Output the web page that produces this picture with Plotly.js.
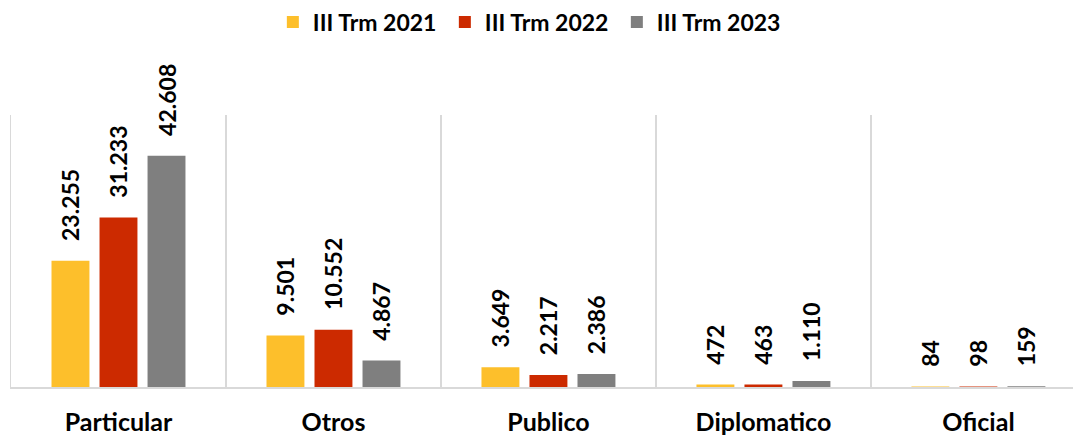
<!DOCTYPE html>
<html>
<head>
<meta charset="utf-8">
<script src="https://cdn.plot.ly/plotly-3.0.1.min.js"></script>
<style>html,body{margin:0;padding:0;background:#fff;}#chart{width:1073px;height:437px;}</style>
</head>
<body>
<div id="chart"></div>
<script>
const categories = ["Particular", "Otros", "Publico", "Diplomatico", "Oficial"];
const seriesNames = ["III Trm 2021", "III Trm 2022", "III Trm 2023"];
const values2021 = [23255, 9501, 3649, 472, 84];
const values2022 = [31233, 10552, 2217, 463, 98];
const values2023 = [42608, 4867, 2386, 1110, 159];
const colors = ["#FDBF2B", "#CC2A00", "#7F7F7F"];

const FONT = "Lato, 'Open Sans', sans-serif";
const allValues = [values2021, values2022, values2023];
const traces = allValues.map((vals, i) => ({
  type: "bar",
  name: seriesNames[i],
  x: categories,
  y: vals,
  marker: {color: colors[i]},
  text: vals.map(v => "\u00a0\u00a0\u00a0" + v.toLocaleString("de-DE")),
  textposition: "outside",
  textangle: -90,
  constraintext: "none",
  cliponaxis: false,
  textfont: {family: FONT, size: 23, color: "#000", weight: "bold"},
  hoverinfo: "none"
}));

const layout = {
  width: 1073, height: 437,
  margin: {l: 11, r: 0, t: 115, b: 50},
  paper_bgcolor: "#fff", plot_bgcolor: "#fff",
  barmode: "group",
  bargap: 0.33,
  bargroupgap: 0.21,
  showlegend: true,
  legend: {
    orientation: "h", x: 0.4895, xanchor: "center", y: 1.342, yanchor: "middle",
    font: {family: FONT, size: 23, color: "#000", weight: "bold"},
    itemwidth: 30, tracegroupgap: 0,
    entrywidth: 127, entrywidthmode: "pixels"
  },
  xaxis: {
    type: "category",
    range: [-0.5, 4.44],
    tickson: "boundaries",
    showgrid: true, gridcolor: "#d9d9d9", gridwidth: 1.5,
    showline: true, linecolor: "#d9d9d9", linewidth: 1.5,
    ticks: "outside", ticklen: 36, tickcolor: "rgba(0,0,0,0)",
    ticklabelstandoff: 12,
    tickfont: {family: FONT, size: 25, color: "#000", weight: "bold"},
    fixedrange: true
  },
  yaxis: {
    range: [0, 50100],
    showticklabels: false, ticks: "",
    showline: true, linecolor: "#d9d9d9", linewidth: 1.5,
    showgrid: false, zeroline: false,
    fixedrange: true
  }
};

Plotly.newPlot("chart", traces, layout, {displayModeBar: false, staticPlot: true});
</script>
</body>
</html>
